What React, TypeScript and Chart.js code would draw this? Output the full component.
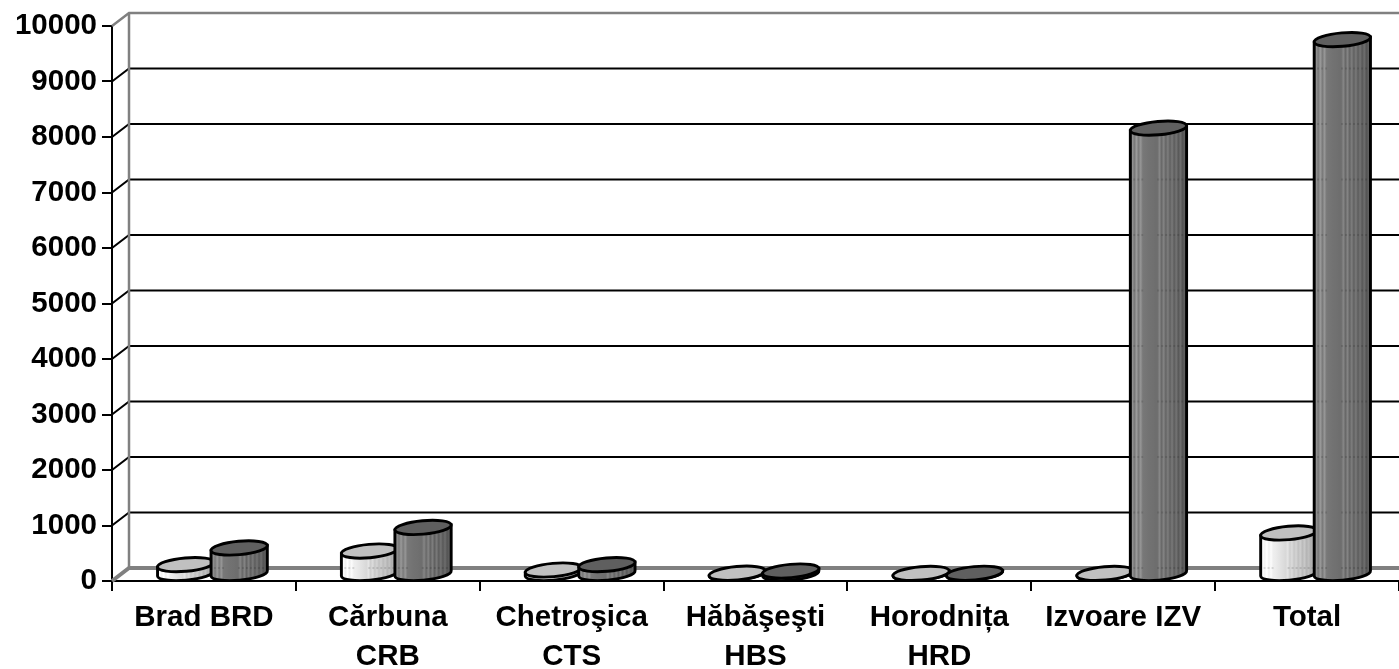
import React, { useEffect, useRef } from "react";
import { Chart, registerables } from "chart.js";

Chart.register(...registerables);

const categories = [
  "Brad BRD",
  ["Cărbuna", "CRB"],
  ["Chetroşica", "CTS"],
  ["Hăbăşeşti", "HBS"],
  ["Horodnița", "HRD"],
  "Izvoare IZV",
  "Total",
];
const lightValues = [160, 405, 63, 5, 2, 2, 730];
const darkValues = [460, 830, 160, 45, 4, 8025, 9620];

const DEPTH_X = 17;
const DEPTH_Y = 13;
const BASE_LIFT = 7.5;
const TILT = 0.09;
const RY = 6.7;
const GRAY = "#808080";

const lightShades = ["#f0f0f0", "#fdfdfd", "#f2f2f2", "#ffffff", "#eeeeee", "#fcfcfc", "#eeeeee", "#ececec", "#e8e8e8", "#e4e4e4", "#e0e0e0", "#dcdcdc", "#d8d8d8", "#e4e4e4", "#cdcdcd", "#dcdcdc", "#c6c6c6", "#d4d4d4", "#c0c0c0", "#cecece", "#bababa", "#c8c8c8", "#b4b4b4", "#c0c0c0", "#aeaeae", "#b8b8b8", "#a6a6a6", "#a2a2a2"];
const darkShades = ["#5c5c5c", "#949494", "#787878", "#9a9a9a", "#7a7a7a", "#969696", "#787878", "#767676", "#747474", "#727272", "#717171", "#707070", "#6e6e6e", "#6e6e6e", "#868686", "#686868", "#848484", "#646464", "#7e7e7e", "#606060", "#7a7a7a", "#5c5c5c", "#747474", "#585858", "#6e6e6e", "#545454", "#606060", "#4e4e4e"];

const cylinderPlugin = {
  id: "cylinders",
  beforeDatasetsDraw(chart: any) {
    const { ctx, scales } = chart;
    const y = scales.y;
    const x0 = chart.chartArea.left;
    const right = chart.width;
    ctx.save();
    // back wall grid lines, running from the front axis back and across
    for (const t of y.ticks) {
      const py = y.getPixelForValue(t.value);
      const edge = t.value === y.min || t.value === y.max;
      ctx.strokeStyle = edge ? GRAY : "#000";
      ctx.lineWidth = t.value === y.min ? 4 : edge ? 2.5 : 2;
      ctx.beginPath();
      ctx.moveTo(x0, py);
      ctx.lineTo(x0 + DEPTH_X, py - DEPTH_Y);
      ctx.lineTo(right, py - DEPTH_Y);
      ctx.stroke();
    }
    ctx.strokeStyle = GRAY;
    ctx.lineWidth = 2.5;
    ctx.beginPath();
    ctx.moveTo(x0 + DEPTH_X, y.getPixelForValue(y.max) - DEPTH_Y);
    ctx.lineTo(x0 + DEPTH_X, y.getPixelForValue(y.min) - DEPTH_Y);
    ctx.stroke();
    ctx.restore();
  },
  afterDatasetsDraw(chart: any) {
    const { ctx, scales } = chart;
    const yScale = scales.y;
    const baseY = yScale.getPixelForValue(0) - BASE_LIFT;
    const cos = Math.cos(TILT);
    const sin = Math.sin(TILT);
    const count = categories.length;
    ctx.save();
    for (let i = 0; i < count; i++) {
      chart.data.datasets.forEach((ds: any, di: number) => {
        const el = chart.getDatasetMeta(di).data[i];
        const cx = el.x + DEPTH_X / 2;
        const rx = el.width / 2 + 1.5;
        const topY = el.y - BASE_LIFT;
        const shades = ds.cylinderShades as string[];
        const g = ctx.createLinearGradient(cx - rx, 0, cx + rx, 0);
        shades.forEach((c, k) => g.addColorStop(k / (shades.length - 1), c));
        const body = new Path2D();
        body.moveTo(cx - rx * cos, topY + rx * sin);
        body.lineTo(cx - rx * cos, baseY + rx * sin);
        body.ellipse(cx, baseY, rx, RY, -TILT, Math.PI, 0, true);
        body.lineTo(cx + rx * cos, topY - rx * sin);
        body.closePath();
        ctx.lineWidth = 2.9;
        ctx.strokeStyle = "#000";
        ctx.fillStyle = g;
        ctx.fill(body);
        // faint dashes where the back wall lines ghost through the cylinder
        ctx.save();
        ctx.clip(body);
        ctx.setLineDash([2, 2]);
        ctx.lineWidth = 2;
        ctx.strokeStyle = "rgba(0,0,0,0.12)";
        for (const t of yScale.ticks) {
          const py = yScale.getPixelForValue(t.value) - DEPTH_Y;
          ctx.beginPath();
          ctx.moveTo(cx - rx + 3, py);
          ctx.lineTo(cx - rx + 14, py);
          ctx.moveTo(cx - rx + 27, py);
          ctx.lineTo(cx - rx + 53, py);
          ctx.stroke();
        }
        ctx.restore();
        ctx.stroke(body);
        ctx.fillStyle = ds.capColor;
        ctx.beginPath();
        ctx.ellipse(cx, topY, rx, RY, -TILT, 0, Math.PI * 2);
        ctx.fill();
        ctx.stroke();
      });
    }
    ctx.restore();
  },
};

export default function App() {
  const ref = useRef<HTMLCanvasElement>(null);
  useEffect(() => {
    const font = { family: "'Liberation Sans', Arial, sans-serif", size: 29.5, weight: "bold" as const, lineHeight: 1.3 };
    const chart = new Chart(ref.current!, {
      type: "bar",
      data: {
        labels: categories as any,
        datasets: [
          { label: "A", data: lightValues, backgroundColor: "transparent", cylinderShades: lightShades, capColor: "#c0c0c0" } as any,
          { label: "B", data: darkValues, backgroundColor: "transparent", cylinderShades: darkShades, capColor: "#5f5f5f" } as any,
        ],
      },
      options: {
        responsive: false,
        animation: false,
        events: [],
        layout: { padding: { top: 26, left: 0, right: 0, bottom: 0 } },
        datasets: { bar: { categoryPercentage: 0.582, barPercentage: 1 } },
        plugins: { legend: { display: false }, tooltip: { enabled: false }, title: { display: false } },
        scales: {
          x: {
            afterFit(s: any) { s.height = 88; },
            border: { color: "#000", width: 2 },
            grid: { drawOnChartArea: false, drawTicks: true, tickLength: 10, color: "#000", lineWidth: 2 },
            ticks: { color: "#000", font, autoSkip: false, maxRotation: 0, minRotation: 0, padding: 8 },
          },
          y: {
            min: 0,
            max: 10000,
            afterFit(s: any) { s.width = 112; },
            border: { color: "#000", width: 2 },
            grid: { drawOnChartArea: false, drawTicks: true, tickLength: 10, color: "#000", lineWidth: 2 },
            ticks: { color: "#000", font, stepSize: 1000, padding: 5, callback: (v: any) => String(v) },
          },
        },
      },
      plugins: [cylinderPlugin as any],
    } as any);
    return () => chart.destroy();
  }, []);
  return (
    <div style={{ position: "absolute", left: 0, top: 0, width: 1399, height: 669, background: "#fff", overflow: "hidden" }}>
      <canvas ref={ref} width={1399} height={669} style={{ display: "block" }} />
    </div>
  );
}
